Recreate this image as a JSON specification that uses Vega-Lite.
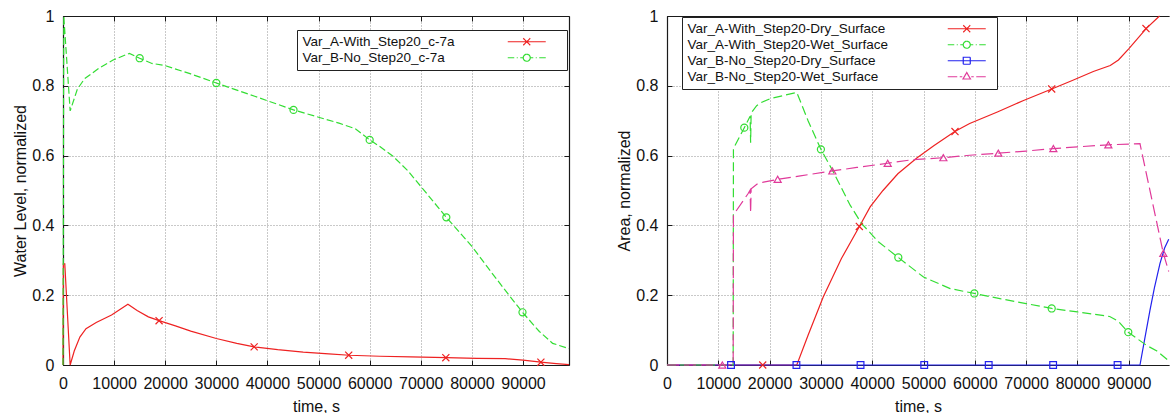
{
  "$schema": "https://vega.github.io/schema/vega-lite/v6.json",
  "autosize": {"type": "pad"},
  "padding": {"left": 12, "top": 8, "right": 0, "bottom": 0},
  "bounds": "flush",
  "spacing": 98,
  "datasets": {
    "leftLines": [
      {"s": "Var_A-With_Step20_c-7a", "t": 0, "v": 0},
      {"s": "Var_A-With_Step20_c-7a", "t": 80, "v": 0.29},
      {"s": "Var_A-With_Step20_c-7a", "t": 350, "v": 0.29},
      {"s": "Var_A-With_Step20_c-7a", "t": 1400, "v": 0},
      {"s": "Var_A-With_Step20_c-7a", "t": 2200, "v": 0.04},
      {"s": "Var_A-With_Step20_c-7a", "t": 3300, "v": 0.08},
      {"s": "Var_A-With_Step20_c-7a", "t": 4500, "v": 0.104},
      {"s": "Var_A-With_Step20_c-7a", "t": 6500, "v": 0.122},
      {"s": "Var_A-With_Step20_c-7a", "t": 9500, "v": 0.143},
      {"s": "Var_A-With_Step20_c-7a", "t": 12700, "v": 0.174},
      {"s": "Var_A-With_Step20_c-7a", "t": 14500, "v": 0.156},
      {"s": "Var_A-With_Step20_c-7a", "t": 16700, "v": 0.138},
      {"s": "Var_A-With_Step20_c-7a", "t": 18800, "v": 0.127},
      {"s": "Var_A-With_Step20_c-7a", "t": 22000, "v": 0.112},
      {"s": "Var_A-With_Step20_c-7a", "t": 25000, "v": 0.097},
      {"s": "Var_A-With_Step20_c-7a", "t": 30000, "v": 0.076},
      {"s": "Var_A-With_Step20_c-7a", "t": 34000, "v": 0.062},
      {"s": "Var_A-With_Step20_c-7a", "t": 37400, "v": 0.052},
      {"s": "Var_A-With_Step20_c-7a", "t": 42000, "v": 0.044},
      {"s": "Var_A-With_Step20_c-7a", "t": 47000, "v": 0.037},
      {"s": "Var_A-With_Step20_c-7a", "t": 52000, "v": 0.032},
      {"s": "Var_A-With_Step20_c-7a", "t": 56000, "v": 0.028},
      {"s": "Var_A-With_Step20_c-7a", "t": 62000, "v": 0.025},
      {"s": "Var_A-With_Step20_c-7a", "t": 68000, "v": 0.023},
      {"s": "Var_A-With_Step20_c-7a", "t": 75000, "v": 0.021},
      {"s": "Var_A-With_Step20_c-7a", "t": 81000, "v": 0.019},
      {"s": "Var_A-With_Step20_c-7a", "t": 86500, "v": 0.018},
      {"s": "Var_A-With_Step20_c-7a", "t": 90000, "v": 0.014},
      {"s": "Var_A-With_Step20_c-7a", "t": 93500, "v": 0.008},
      {"s": "Var_A-With_Step20_c-7a", "t": 96500, "v": 0.004},
      {"s": "Var_A-With_Step20_c-7a", "t": 99000, "v": 0.001},
      {"s": "Var_B-No_Step20_c-7a", "t": 0, "v": 0},
      {"s": "Var_B-No_Step20_c-7a", "t": 150, "v": 1.0},
      {"s": "Var_B-No_Step20_c-7a", "t": 1400, "v": 0.728},
      {"s": "Var_B-No_Step20_c-7a", "t": 2800, "v": 0.79},
      {"s": "Var_B-No_Step20_c-7a", "t": 4200, "v": 0.82},
      {"s": "Var_B-No_Step20_c-7a", "t": 7000, "v": 0.85},
      {"s": "Var_B-No_Step20_c-7a", "t": 9800, "v": 0.874},
      {"s": "Var_B-No_Step20_c-7a", "t": 13000, "v": 0.893},
      {"s": "Var_B-No_Step20_c-7a", "t": 15000, "v": 0.879},
      {"s": "Var_B-No_Step20_c-7a", "t": 17400, "v": 0.864},
      {"s": "Var_B-No_Step20_c-7a", "t": 19700, "v": 0.859},
      {"s": "Var_B-No_Step20_c-7a", "t": 25000, "v": 0.834},
      {"s": "Var_B-No_Step20_c-7a", "t": 30000, "v": 0.808},
      {"s": "Var_B-No_Step20_c-7a", "t": 37500, "v": 0.77},
      {"s": "Var_B-No_Step20_c-7a", "t": 45100, "v": 0.731},
      {"s": "Var_B-No_Step20_c-7a", "t": 50000, "v": 0.71},
      {"s": "Var_B-No_Step20_c-7a", "t": 54000, "v": 0.693},
      {"s": "Var_B-No_Step20_c-7a", "t": 57200, "v": 0.677},
      {"s": "Var_B-No_Step20_c-7a", "t": 60000, "v": 0.645},
      {"s": "Var_B-No_Step20_c-7a", "t": 61900, "v": 0.627},
      {"s": "Var_B-No_Step20_c-7a", "t": 64500, "v": 0.599},
      {"s": "Var_B-No_Step20_c-7a", "t": 67500, "v": 0.556},
      {"s": "Var_B-No_Step20_c-7a", "t": 70000, "v": 0.512},
      {"s": "Var_B-No_Step20_c-7a", "t": 75000, "v": 0.423},
      {"s": "Var_B-No_Step20_c-7a", "t": 80000, "v": 0.34},
      {"s": "Var_B-No_Step20_c-7a", "t": 84000, "v": 0.262},
      {"s": "Var_B-No_Step20_c-7a", "t": 87000, "v": 0.205},
      {"s": "Var_B-No_Step20_c-7a", "t": 89900, "v": 0.151},
      {"s": "Var_B-No_Step20_c-7a", "t": 93200, "v": 0.096},
      {"s": "Var_B-No_Step20_c-7a", "t": 95800, "v": 0.062},
      {"s": "Var_B-No_Step20_c-7a", "t": 99000, "v": 0.047}
    ],
    "leftMarks": [
      {"s": "Var_A-With_Step20_c-7a", "t": 18800, "v": 0.127},
      {"s": "Var_A-With_Step20_c-7a", "t": 37400, "v": 0.052},
      {"s": "Var_A-With_Step20_c-7a", "t": 55900, "v": 0.028},
      {"s": "Var_A-With_Step20_c-7a", "t": 74900, "v": 0.021},
      {"s": "Var_A-With_Step20_c-7a", "t": 93500, "v": 0.008},
      {"s": "Var_B-No_Step20_c-7a", "t": 15000, "v": 0.879},
      {"s": "Var_B-No_Step20_c-7a", "t": 30000, "v": 0.808},
      {"s": "Var_B-No_Step20_c-7a", "t": 45100, "v": 0.731},
      {"s": "Var_B-No_Step20_c-7a", "t": 60000, "v": 0.645},
      {"s": "Var_B-No_Step20_c-7a", "t": 75000, "v": 0.423},
      {"s": "Var_B-No_Step20_c-7a", "t": 89900, "v": 0.151}
    ],
    "rightLines": [
      {"s": "Var_A-With_Step20-Dry_Surface", "t": 0, "v": 0},
      {"s": "Var_A-With_Step20-Dry_Surface", "t": 25300, "v": 0},
      {"s": "Var_A-With_Step20-Dry_Surface", "t": 27500, "v": 0.085},
      {"s": "Var_A-With_Step20-Dry_Surface", "t": 30450, "v": 0.195},
      {"s": "Var_A-With_Step20-Dry_Surface", "t": 34000, "v": 0.305},
      {"s": "Var_A-With_Step20-Dry_Surface", "t": 37500, "v": 0.397},
      {"s": "Var_A-With_Step20-Dry_Surface", "t": 39600, "v": 0.453},
      {"s": "Var_A-With_Step20-Dry_Surface", "t": 42100, "v": 0.5},
      {"s": "Var_A-With_Step20-Dry_Surface", "t": 45000, "v": 0.548},
      {"s": "Var_A-With_Step20-Dry_Surface", "t": 48700, "v": 0.593},
      {"s": "Var_A-With_Step20-Dry_Surface", "t": 52000, "v": 0.628},
      {"s": "Var_A-With_Step20-Dry_Surface", "t": 56100, "v": 0.669},
      {"s": "Var_A-With_Step20-Dry_Surface", "t": 59000, "v": 0.692},
      {"s": "Var_A-With_Step20-Dry_Surface", "t": 64400, "v": 0.725},
      {"s": "Var_A-With_Step20-Dry_Surface", "t": 69500, "v": 0.758},
      {"s": "Var_A-With_Step20-Dry_Surface", "t": 75000, "v": 0.791},
      {"s": "Var_A-With_Step20-Dry_Surface", "t": 79000, "v": 0.815},
      {"s": "Var_A-With_Step20-Dry_Surface", "t": 83100, "v": 0.841},
      {"s": "Var_A-With_Step20-Dry_Surface", "t": 86400, "v": 0.858},
      {"s": "Var_A-With_Step20-Dry_Surface", "t": 88000, "v": 0.874},
      {"s": "Var_A-With_Step20-Dry_Surface", "t": 90000, "v": 0.906},
      {"s": "Var_A-With_Step20-Dry_Surface", "t": 93400, "v": 0.964},
      {"s": "Var_A-With_Step20-Dry_Surface", "t": 96000, "v": 1.0},
      {"s": "Var_A-With_Step20-Wet_Surface", "t": 0, "v": 0},
      {"s": "Var_A-With_Step20-Wet_Surface", "t": 12900, "v": 0},
      {"s": "Var_A-With_Step20-Wet_Surface", "t": 12950, "v": 0.62},
      {"s": "Var_A-With_Step20-Wet_Surface", "t": 15070, "v": 0.68},
      {"s": "Var_A-With_Step20-Wet_Surface", "t": 16200, "v": 0.713},
      {"s": "Var_A-With_Step20-Wet_Surface", "t": 16300, "v": 0.637},
      {"s": "Var_A-With_Step20-Wet_Surface", "t": 16400, "v": 0.722},
      {"s": "Var_A-With_Step20-Wet_Surface", "t": 17480, "v": 0.743},
      {"s": "Var_A-With_Step20-Wet_Surface", "t": 18500, "v": 0.753},
      {"s": "Var_A-With_Step20-Wet_Surface", "t": 20080, "v": 0.763},
      {"s": "Var_A-With_Step20-Wet_Surface", "t": 25300, "v": 0.781},
      {"s": "Var_A-With_Step20-Wet_Surface", "t": 27500, "v": 0.7},
      {"s": "Var_A-With_Step20-Wet_Surface", "t": 30000, "v": 0.618},
      {"s": "Var_A-With_Step20-Wet_Surface", "t": 32400, "v": 0.554},
      {"s": "Var_A-With_Step20-Wet_Surface", "t": 35700, "v": 0.458},
      {"s": "Var_A-With_Step20-Wet_Surface", "t": 37900, "v": 0.406},
      {"s": "Var_A-With_Step20-Wet_Surface", "t": 41200, "v": 0.353},
      {"s": "Var_A-With_Step20-Wet_Surface", "t": 45100, "v": 0.308},
      {"s": "Var_A-With_Step20-Wet_Surface", "t": 50000, "v": 0.252},
      {"s": "Var_A-With_Step20-Wet_Surface", "t": 55200, "v": 0.219},
      {"s": "Var_A-With_Step20-Wet_Surface", "t": 59900, "v": 0.205},
      {"s": "Var_A-With_Step20-Wet_Surface", "t": 64900, "v": 0.19},
      {"s": "Var_A-With_Step20-Wet_Surface", "t": 70000, "v": 0.176},
      {"s": "Var_A-With_Step20-Wet_Surface", "t": 75000, "v": 0.162},
      {"s": "Var_A-With_Step20-Wet_Surface", "t": 80000, "v": 0.152},
      {"s": "Var_A-With_Step20-Wet_Surface", "t": 86300, "v": 0.139},
      {"s": "Var_A-With_Step20-Wet_Surface", "t": 88000, "v": 0.125},
      {"s": "Var_A-With_Step20-Wet_Surface", "t": 89900, "v": 0.094},
      {"s": "Var_A-With_Step20-Wet_Surface", "t": 93500, "v": 0.056},
      {"s": "Var_A-With_Step20-Wet_Surface", "t": 95500, "v": 0.04},
      {"s": "Var_A-With_Step20-Wet_Surface", "t": 97800, "v": 0.012},
      {"s": "Var_B-No_Step20-Dry_Surface", "t": 0, "v": 0},
      {"s": "Var_B-No_Step20-Dry_Surface", "t": 92200, "v": 0},
      {"s": "Var_B-No_Step20-Dry_Surface", "t": 93000, "v": 0.065},
      {"s": "Var_B-No_Step20-Dry_Surface", "t": 94150, "v": 0.157},
      {"s": "Var_B-No_Step20-Dry_Surface", "t": 95000, "v": 0.22},
      {"s": "Var_B-No_Step20-Dry_Surface", "t": 96100, "v": 0.291},
      {"s": "Var_B-No_Step20-Dry_Surface", "t": 97000, "v": 0.335},
      {"s": "Var_B-No_Step20-Dry_Surface", "t": 97800, "v": 0.36},
      {"s": "Var_B-No_Step20-Wet_Surface", "t": 0, "v": 0},
      {"s": "Var_B-No_Step20-Wet_Surface", "t": 12900, "v": 0},
      {"s": "Var_B-No_Step20-Wet_Surface", "t": 12950, "v": 0.43},
      {"s": "Var_B-No_Step20-Wet_Surface", "t": 15850, "v": 0.492},
      {"s": "Var_B-No_Step20-Wet_Surface", "t": 16200, "v": 0.501},
      {"s": "Var_B-No_Step20-Wet_Surface", "t": 16300, "v": 0.436},
      {"s": "Var_B-No_Step20-Wet_Surface", "t": 16400, "v": 0.505},
      {"s": "Var_B-No_Step20-Wet_Surface", "t": 17800, "v": 0.521},
      {"s": "Var_B-No_Step20-Wet_Surface", "t": 21570, "v": 0.532},
      {"s": "Var_B-No_Step20-Wet_Surface", "t": 26000, "v": 0.542},
      {"s": "Var_B-No_Step20-Wet_Surface", "t": 32230, "v": 0.556},
      {"s": "Var_B-No_Step20-Wet_Surface", "t": 37000, "v": 0.566},
      {"s": "Var_B-No_Step20-Wet_Surface", "t": 43000, "v": 0.578},
      {"s": "Var_B-No_Step20-Wet_Surface", "t": 47700, "v": 0.588},
      {"s": "Var_B-No_Step20-Wet_Surface", "t": 53900, "v": 0.594},
      {"s": "Var_B-No_Step20-Wet_Surface", "t": 59000, "v": 0.601},
      {"s": "Var_B-No_Step20-Wet_Surface", "t": 64600, "v": 0.607},
      {"s": "Var_B-No_Step20-Wet_Surface", "t": 70000, "v": 0.613},
      {"s": "Var_B-No_Step20-Wet_Surface", "t": 75300, "v": 0.62},
      {"s": "Var_B-No_Step20-Wet_Surface", "t": 80000, "v": 0.625},
      {"s": "Var_B-No_Step20-Wet_Surface", "t": 86000, "v": 0.631},
      {"s": "Var_B-No_Step20-Wet_Surface", "t": 92200, "v": 0.634},
      {"s": "Var_B-No_Step20-Wet_Surface", "t": 96750, "v": 0.32},
      {"s": "Var_B-No_Step20-Wet_Surface", "t": 97800, "v": 0.268}
    ],
    "rightMarks": [
      {"s": "Var_A-With_Step20-Dry_Surface", "t": 18660, "v": 0},
      {"s": "Var_A-With_Step20-Dry_Surface", "t": 37490, "v": 0.397},
      {"s": "Var_A-With_Step20-Dry_Surface", "t": 56140, "v": 0.669},
      {"s": "Var_A-With_Step20-Dry_Surface", "t": 74990, "v": 0.791},
      {"s": "Var_A-With_Step20-Dry_Surface", "t": 93370, "v": 0.964},
      {"s": "Var_A-With_Step20-Wet_Surface", "t": 15070, "v": 0.68},
      {"s": "Var_A-With_Step20-Wet_Surface", "t": 30000, "v": 0.618},
      {"s": "Var_A-With_Step20-Wet_Surface", "t": 45090, "v": 0.308},
      {"s": "Var_A-With_Step20-Wet_Surface", "t": 59910, "v": 0.205},
      {"s": "Var_A-With_Step20-Wet_Surface", "t": 74990, "v": 0.162},
      {"s": "Var_A-With_Step20-Wet_Surface", "t": 89920, "v": 0.094},
      {"s": "Var_B-No_Step20-Dry_Surface", "t": 12480, "v": 0},
      {"s": "Var_B-No_Step20-Dry_Surface", "t": 25230, "v": 0},
      {"s": "Var_B-No_Step20-Dry_Surface", "t": 37730, "v": 0},
      {"s": "Var_B-No_Step20-Dry_Surface", "t": 50140, "v": 0},
      {"s": "Var_B-No_Step20-Dry_Surface", "t": 62710, "v": 0},
      {"s": "Var_B-No_Step20-Dry_Surface", "t": 75270, "v": 0},
      {"s": "Var_B-No_Step20-Dry_Surface", "t": 87830, "v": 0},
      {"s": "Var_B-No_Step20-Wet_Surface", "t": 10780, "v": 0},
      {"s": "Var_B-No_Step20-Wet_Surface", "t": 21570, "v": 0.532},
      {"s": "Var_B-No_Step20-Wet_Surface", "t": 32230, "v": 0.556},
      {"s": "Var_B-No_Step20-Wet_Surface", "t": 43020, "v": 0.578},
      {"s": "Var_B-No_Step20-Wet_Surface", "t": 53870, "v": 0.594},
      {"s": "Var_B-No_Step20-Wet_Surface", "t": 64590, "v": 0.607},
      {"s": "Var_B-No_Step20-Wet_Surface", "t": 75310, "v": 0.62},
      {"s": "Var_B-No_Step20-Wet_Surface", "t": 86030, "v": 0.631},
      {"s": "Var_B-No_Step20-Wet_Surface", "t": 96750, "v": 0.32}
    ]
  },
  "hconcat": [
    {
      "width": 506,
      "height": 349,
      "encoding": {
        "color": {"field": "s", "type": "nominal",
          "scale": {"domain": ["Var_A-With_Step20_c-7a", "Var_B-No_Step20_c-7a"], "range": ["#ee2222", "#33dd33"]},
          "legend": {
            "orient": "none", "legendX": 234, "legendY": 14, "title": null,
            "symbolOffset": 218, "labelOffset": -231,
            "encode": {"symbols": {"update": {
              "shape": {"signal": "datum.value == 'Var_A-With_Step20_c-7a' ? 'M-3.8,0L3.8,0M-0.7,-0.7L0.7,0.7M-0.7,0.7L0.7,-0.7M6.4,0' : 'M-3.8,0L-2.5,0M-2.0,0L-1.8,0M-1.3,0L-0.75,0M0.7,0A0.7,0.7,0,1,1,-0.7,0A0.7,0.7,0,1,1,0.7,0M0.75,0L1.3,0M1.8,0L2.0,0M2.5,0L3.8,0M6.4,0'"},
              "fill": {"value": "transparent"},
              "strokeDash": {"value": [1, 0]},
              "strokeWidth": {"value": 1.2},
              "size": {"value": 100},
              "opacity": {"value": 1}
            }}}
          }}
      },
      "layer": [
        {
          "data": {"name": "leftLines"},
          "transform": [{"filter": {"field": "s", "equal": "Var_A-With_Step20_c-7a"}}],
          "mark": {"type": "line", "strokeWidth": 1.2},
          "encoding": {
            "x": {"field": "t", "type": "quantitative", "scale": {"domain": [0, 99000], "nice": false, "zero": false},
              "axis": {"title": "time, s", "values": [0, 10000, 20000, 30000, 40000, 50000, 60000, 70000, 80000, 90000], "format": "d", "grid": true}},
            "y": {"field": "v", "type": "quantitative", "scale": {"domain": [0, 1], "nice": false},
              "axis": {"title": "Water Level, normalized", "values": [0, 0.2, 0.4, 0.6, 0.8, 1], "format": "~g", "grid": true}}
          }
        },
        {
          "data": {"name": "leftLines"},
          "transform": [{"filter": {"field": "s", "equal": "Var_B-No_Step20_c-7a"}}],
          "mark": {"type": "line", "strokeWidth": 1.2, "strokeDash": [7, 3]},
          "encoding": {
            "x": {"field": "t", "type": "quantitative", "axis": null},
            "y": {"field": "v", "type": "quantitative", "axis": null}
          }
        },
        {
          "data": {"name": "leftMarks"},
          "transform": [{"filter": {"field": "s", "equal": "Var_A-With_Step20_c-7a"}}],
          "mark": {"type": "point", "filled": false, "strokeWidth": 1.2, "size": 50, "opacity": 1, "shape": "M-1,-1L1,1M-1,1L1,-1"},
          "encoding": {
            "x": {"field": "t", "type": "quantitative",
              "axis": {"orient": "top", "labels": false, "grid": false, "title": null, "values": [0, 10000, 20000, 30000, 40000, 50000, 60000, 70000, 80000, 90000]}},
            "y": {"field": "v", "type": "quantitative",
              "axis": {"orient": "right", "labels": false, "grid": false, "title": null, "values": [0, 0.2, 0.4, 0.6, 0.8, 1]}}
          }
        },
        {
          "data": {"name": "leftMarks"},
          "transform": [{"filter": {"field": "s", "equal": "Var_B-No_Step20_c-7a"}}],
          "mark": {"type": "point", "filled": false, "strokeWidth": 1.2, "size": 50, "opacity": 1, "shape": "circle"},
          "encoding": {
            "x": {"field": "t", "type": "quantitative", "axis": null},
            "y": {"field": "v", "type": "quantitative", "axis": null}
          }
        }
      ],
      "resolve": {"axis": {"x": "independent", "y": "independent"}}
    },
    {
      "width": 502,
      "height": 349,
      "encoding": {
        "color": {"field": "s", "type": "nominal",
          "scale": {"domain": ["Var_A-With_Step20-Dry_Surface", "Var_A-With_Step20-Wet_Surface", "Var_B-No_Step20-Dry_Surface", "Var_B-No_Step20-Wet_Surface"], "range": ["#ee2222", "#33dd33", "#2222ee", "#e03a9a"]},
          "legend": {
            "orient": "none", "legendX": 15, "legendY": 1, "title": null,
            "symbolOffset": 273, "labelOffset": -286,
            "encode": {"symbols": {"update": {
              "shape": {"signal": "datum.value == 'Var_A-With_Step20-Dry_Surface' ? 'M-3.8,0L3.8,0M-0.7,-0.7L0.7,0.7M-0.7,0.7L0.7,-0.7M4.4,0' : datum.value == 'Var_A-With_Step20-Wet_Surface' ? 'M-3.8,0L-2.5,0M-2.0,0L-1.8,0M-1.3,0L-0.75,0M0.7,0A0.7,0.7,0,1,1,-0.7,0A0.7,0.7,0,1,1,0.7,0M0.75,0L1.3,0M1.8,0L2.0,0M2.5,0L3.8,0M4.4,0' : datum.value == 'Var_B-No_Step20-Dry_Surface' ? 'M-3.8,0L3.8,0M-0.7,-0.7H0.7V0.7H-0.7ZM4.4,0' : 'M-3.8,0L-1.9,0M-1.4,0L-0.9,0M0,-0.85L0.75,0.45L-0.75,0.45ZM0.9,0L1.4,0M1.9,0L3.8,0M4.4,0'"},
              "fill": {"value": "transparent"},
              "strokeDash": {"value": [1, 0]},
              "strokeWidth": {"value": 1.2},
              "size": {"value": 100},
              "opacity": {"value": 1}
            }}}
          }}
      },
      "layer": [
        {
          "data": {"name": "rightLines"},
          "transform": [{"filter": {"field": "s", "oneOf": ["Var_A-With_Step20-Dry_Surface", "Var_B-No_Step20-Dry_Surface"]}}],
          "mark": {"type": "line", "strokeWidth": 1.2},
          "encoding": {
            "x": {"field": "t", "type": "quantitative", "scale": {"domain": [0, 97855], "nice": false, "zero": false},
              "axis": {"title": "time, s", "values": [0, 10000, 20000, 30000, 40000, 50000, 60000, 70000, 80000, 90000], "format": "d", "grid": true}},
            "y": {"field": "v", "type": "quantitative", "scale": {"domain": [0, 1], "nice": false},
              "axis": {"title": "Area, normalized", "values": [0, 0.2, 0.4, 0.6, 0.8, 1], "format": "~g", "grid": true}}
          }
        },
        {
          "data": {"name": "rightLines"},
          "transform": [{"filter": {"field": "s", "equal": "Var_A-With_Step20-Wet_Surface"}}],
          "mark": {"type": "line", "strokeWidth": 1.2, "strokeDash": [9, 4]},
          "encoding": {
            "x": {"field": "t", "type": "quantitative", "axis": null},
            "y": {"field": "v", "type": "quantitative", "axis": null}
          }
        },
        {
          "data": {"name": "rightLines"},
          "transform": [{"filter": {"field": "s", "equal": "Var_B-No_Step20-Wet_Surface"}}],
          "mark": {"type": "line", "strokeWidth": 1.2, "strokeDash": [12, 5]},
          "encoding": {
            "x": {"field": "t", "type": "quantitative", "axis": null},
            "y": {"field": "v", "type": "quantitative", "axis": null}
          }
        },
        {
          "data": {"name": "rightMarks"},
          "transform": [{"filter": {"field": "s", "equal": "Var_A-With_Step20-Dry_Surface"}}],
          "mark": {"type": "point", "filled": false, "strokeWidth": 1.2, "size": 50, "opacity": 1, "shape": "M-1,-1L1,1M-1,1L1,-1"},
          "encoding": {
            "x": {"field": "t", "type": "quantitative",
              "axis": {"orient": "top", "labels": false, "grid": false, "title": null, "values": [0, 10000, 20000, 30000, 40000, 50000, 60000, 70000, 80000, 90000]}},
            "y": {"field": "v", "type": "quantitative", "axis": null}
          }
        },
        {
          "data": {"name": "rightMarks"},
          "transform": [{"filter": {"field": "s", "equal": "Var_A-With_Step20-Wet_Surface"}}],
          "mark": {"type": "point", "filled": false, "strokeWidth": 1.2, "size": 50, "opacity": 1, "shape": "circle"},
          "encoding": {
            "x": {"field": "t", "type": "quantitative", "axis": null},
            "y": {"field": "v", "type": "quantitative", "axis": null}
          }
        },
        {
          "data": {"name": "rightMarks"},
          "transform": [{"filter": {"field": "s", "equal": "Var_B-No_Step20-Dry_Surface"}}],
          "mark": {"type": "point", "filled": false, "strokeWidth": 1.2, "size": 45, "opacity": 1, "shape": "square"},
          "encoding": {
            "x": {"field": "t", "type": "quantitative", "axis": null},
            "y": {"field": "v", "type": "quantitative", "axis": null}
          }
        },
        {
          "data": {"name": "rightMarks"},
          "transform": [{"filter": {"field": "s", "equal": "Var_B-No_Step20-Wet_Surface"}}],
          "mark": {"type": "point", "filled": false, "strokeWidth": 1.2, "size": 50, "opacity": 1, "shape": "triangle-up"},
          "encoding": {
            "x": {"field": "t", "type": "quantitative", "axis": null},
            "y": {"field": "v", "type": "quantitative", "axis": null}
          }
        }
      ],
      "resolve": {"axis": {"x": "independent", "y": "independent"}}
    }
  ],
  "resolve": {"scale": {"color": "independent", "x": "independent", "y": "independent"}, "legend": {"color": "independent"}},
  "config": {
    "font": "Liberation Sans",
    "view": {"stroke": null},
    "axis": {
      "domainColor": "#1a1a1a", "domainWidth": 1.2, "tickColor": "#1a1a1a", "tickSize": -5, "tickWidth": 1,
      "labelFont": "Liberation Sans", "labelFontSize": 16, "labelColor": "#111111",
      "titleFont": "Liberation Sans", "titleFontSize": 16, "titleFontWeight": "normal", "titleColor": "#111111",
      "gridColor": "#777777", "gridDash": [1, 2], "gridWidth": 0.8, "gridOpacity": 1,
      "labelFlush": false, "labelOverlap": false
    },
    "axisX": {"labelPadding": 15, "titlePadding": 7},
    "axisY": {"labelPadding": 14, "titlePadding": 3},
    "legend": {
      "fillColor": "white", "strokeColor": "#222222", "padding": 5, "rowPadding": 1,
      "labelFont": "Liberation Sans", "labelFontSize": 13.5, "labelColor": "#111111", "labelLimit": 400,
      "symbolSize": 100, "symbolStrokeWidth": 1.2, "columns": 1
    }
  }
}
